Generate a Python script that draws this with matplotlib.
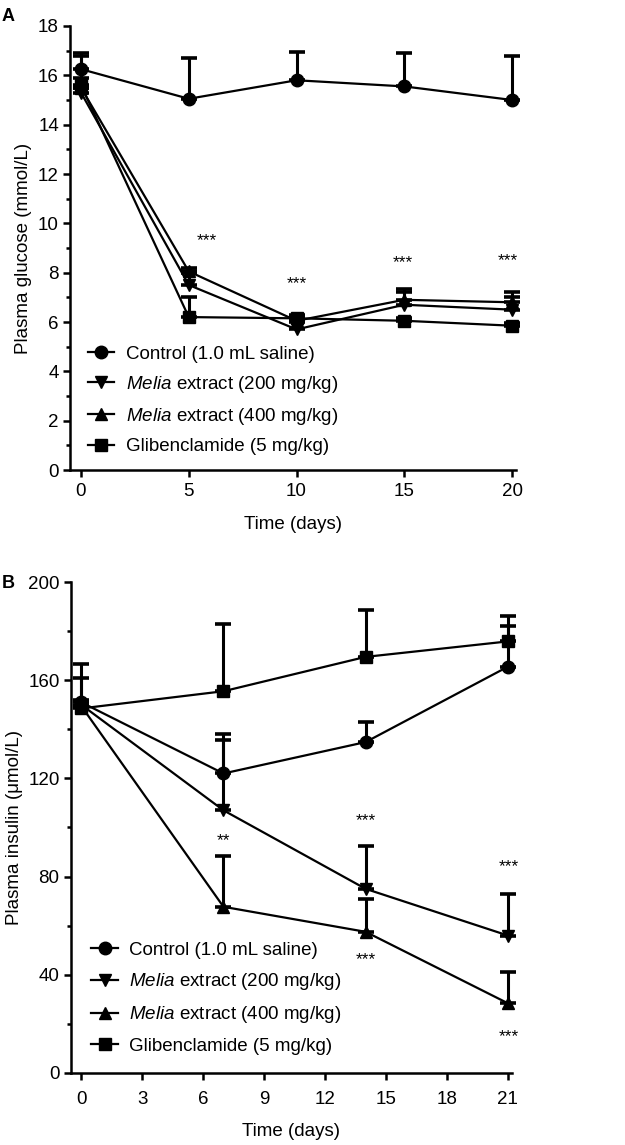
import matplotlib
matplotlib.use("Agg")
import matplotlib.pyplot as plt
from matplotlib.ticker import MultipleLocator
import numpy as np

plt.rcParams['font.family'] = ['Liberation Sans', 'DejaVu Sans']
plt.rcParams['mathtext.fontset'] = 'custom'
plt.rcParams['mathtext.it'] = 'Liberation Sans:italic'
plt.rcParams['mathtext.rm'] = 'Liberation Sans'

# ---------------- Data ----------------
labels = ["Control (1.0 mL saline)",
          r"$\mathit{Melia}$ extract (200 mg/kg)",
          r"$\mathit{Melia}$ extract (400 mg/kg)",
          "Glibenclamide (5 mg/kg)"]
markers = ["o", "v", "^", "s"]

# Panel A: plasma glucose (mmol/L)
days_a = [0, 5, 10, 15, 20]
gluc_control = [16.25, 15.05, 15.8, 15.55, 15.0]
gluc_control_err = [0.65, 1.65, 1.15, 1.35, 1.8]
gluc_m200 = [15.3, 7.5, 5.7, 6.7, 6.5]
gluc_m200_err = [0.2, 0.5, 0.3, 0.5, 0.5]
gluc_m400 = [15.5, 8.05, 6.05, 6.9, 6.8]
gluc_m400_err = [1.3, 0.15, 0.25, 0.45, 0.4]
gluc_glib = [15.6, 6.2, 6.15, 6.05, 5.85]
gluc_glib_err = [0.3, 0.8, 0.1, 0.1, 0.1]
stars_a_x = [5.85, 10.0, 14.95, 19.8]
stars_a_y = [9.3, 7.55, 8.4, 8.5]
stars_a_txt = ["***", "***", "***", "***"]

# Panel B: plasma insulin (umol/L)
days_b = [0, 7, 14, 21]
ins_control = [151, 122, 134.8, 165.5]
ins_control_err = [10, 16, 8.1, 16.5]
ins_m200 = [150, 107, 75, 56]
ins_m200_err = [2, 28.5, 17.3, 17]
ins_m400 = [149.5, 67.7, 57.5, 28.4]
ins_m400_err = [2, 20.6, 13.2, 12.8]
ins_glib = [148.5, 155.5, 169.5, 175.8]
ins_glib_err = [18.2, 27.5, 19, 10.5]
stars_b_x = [7, 14, 14, 21.05, 21.05]
stars_b_y = [94.8, 102.6, 46.3, 84, 14.8]
stars_b_txt = ["**", "***", "***", "***", "***"]

fig = plt.figure(figsize=(6.25, 11.45), dpi=100)

def panel(ax, x, series, errs, xlim, ylim, xmajor, ymajor, yminor, ylabel,
          sx, sy, stxt, legend_anchor, fs, xpad, xlabelpad, labelspacing):
    handles = []
    for ser, err, mk, lab in zip(series, errs, markers, labels):
        ax.errorbar(x, ser, yerr=[np.zeros(len(err)), err], fmt="none",
                    ecolor="black", elinewidth=2.2, capsize=5.5, capthick=2.6,
                    zorder=2, clip_on=False)
        h, = ax.plot(x, ser, color="black", lw=1.6, marker=mk,
                     markersize=9 if mk != "s" else 8.5, markerfacecolor="black",
                     markeredgecolor="black", label=lab, zorder=3, clip_on=False)
        handles.append(h)
    for a, b, t in zip(sx, sy, stxt):
        ax.text(a, b, t, ha="center", va="center", fontsize=12.5)
    ax.set_xlim(*xlim)
    ax.set_ylim(*ylim)
    ax.xaxis.set_major_locator(MultipleLocator(xmajor))
    ax.yaxis.set_major_locator(MultipleLocator(ymajor))
    ax.yaxis.set_minor_locator(MultipleLocator(yminor))
    ax.spines["top"].set_visible(False)
    ax.spines["right"].set_visible(False)
    ax.spines["left"].set_linewidth(1.8)
    ax.spines["bottom"].set_linewidth(1.8)
    ax.tick_params(axis="both", which="major", labelsize=fs, width=1.8,
                   length=5, direction="out", pad=3)
    ax.tick_params(axis="x", which="major", pad=xpad)
    ax.tick_params(axis="y", which="minor", width=1.8, length=3)
    ax.set_xlabel("Time (days)", fontsize=fs, labelpad=xlabelpad)
    ax.set_ylabel(ylabel, fontsize=fs, labelpad=4)
    ax.legend(handles=handles, loc="lower left", bbox_to_anchor=legend_anchor,
              frameon=False, fontsize=fs, handlelength=1.4,
              handletextpad=0.62, labelspacing=labelspacing, borderaxespad=0)
    return ax

axA = fig.add_axes([0.112, 0.5895, 0.7136, 0.3878])
panel(axA, days_a, [gluc_control, gluc_m200, gluc_m400, gluc_glib],
      [gluc_control_err, gluc_m200_err, gluc_m400_err, gluc_glib_err],
      (-0.51, 20.18), (0, 18), 5, 2, 1, "Plasma glucose (mmol/L)",
      stars_a_x, stars_a_y, stars_a_txt, (0.024, 0.016), 13.5, 4, 12, 0.6)

axB = fig.add_axes([0.1131, 0.0629, 0.706, 0.4288])
panel(axB, days_b, [ins_control, ins_m200, ins_m400, ins_glib],
      [ins_control_err, ins_m200_err, ins_m400_err, ins_glib_err],
      (-0.52, 21.2), (0, 200), 3, 40, 20, "Plasma insulin (\u03bcmol/L)",
      stars_b_x, stars_b_y, stars_b_txt, (0.03, 0.022), 13.5, 8, 11, 0.65)

fig.text(0.003, 0.993, "A", fontsize=13, fontweight="bold", va="top", ha="left")
fig.text(0.003, 0.498, "B", fontsize=13, fontweight="bold", va="top", ha="left")

fig.savefig("out.png", dpi=100)
